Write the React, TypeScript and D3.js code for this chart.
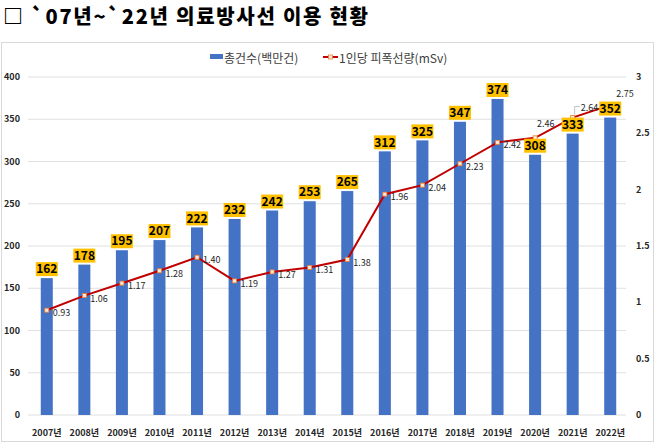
import React from "react";
import * as d3 from "d3";

const years = ["2007년","2008년","2009년","2010년","2011년","2012년","2013년","2014년","2015년","2016년","2017년","2018년","2019년","2020년","2021년","2022년"];
const totalCount = [162,178,195,207,222,232,242,253,265,312,325,347,374,308,333,352];
const perCapitaDose = [0.93,1.06,1.17,1.28,1.40,1.19,1.27,1.31,1.38,1.96,2.04,2.23,2.42,2.46,2.64,2.75];
const leftTicks = [0,50,100,150,200,250,300,350,400];
const rightTicks = [0,0.5,1,1.5,2,2.5,3];
const titleText = "□ `07년~`22년 의료방사선 이용 현황";
const legendBar = "총건수(백만건)";
const legendLine = "1인당 피폭선량(mSv)";

const W = 658, H = 446;
const FONT = "'Noto Sans CJK KR', 'Noto Sans', sans-serif";

// label offsets for line values (style)
const lineLabelOffset = (i: number): [number, number] => {
  if (i === 13) return [2, -11];
  if (i === 14) return [8, -7];
  if (i === 15) return [6, -8];
  return [6, 6];
};

export default function App() {
  const x = d3.scaleBand<string>().domain(years).range([28, 629]).paddingInner(0.68).paddingOuter(0.34);
  const yL = d3.scaleLinear().domain([0, 400]).range([415, 77]);
  const yR = d3.scaleLinear().domain([0, 3]).range([415, 77]);
  const cx = (i: number) => (x(years[i]) as number) + x.bandwidth() / 2;
  const line = d3.line<number>().x((_, i) => cx(i)).y(d => yR(d));
  const fmtR = (v: number) => (v === 0 ? "0" : d3.format("")(v));

  return (
    <svg width={W} height={H} style={{ position: "absolute", left: 0, top: 0, background: "#fff" }} fontFamily={FONT}>
      <rect x={0} y={0} width={W} height={H} fill="#fff" />
      <text x={3} y={24} fontSize={20} fontWeight={900} fill="#000" textLength={365} lengthAdjust="spacing">{titleText}</text>
      <rect x={1.5} y={42.5} width={652} height={399} fill="none" stroke="#d9d9d9" />

      {/* legend */}
      <rect x={210} y={54} width={13} height={5} fill="#4472C4" />
      <text x={224} y={63} fontSize={12} fill="#404040">{legendBar}</text>
      <line x1={323} x2={338} y1={57} y2={57} stroke="#C00000" strokeWidth={2} />
      <rect x={328.5} y={55} width={4} height={4} fill="#fde9d9" stroke="#ed7d31" strokeWidth={0.8} />
      <text x={339} y={63} fontSize={12} fill="#404040">{legendLine}</text>

      {/* gridlines */}
      {leftTicks.map(t => (
        <line key={"g" + t} x1={28} x2={626} y1={yL(t)} y2={yL(t)} stroke="#e0e0e0" strokeWidth={1} />
      ))}
      {leftTicks.map(t => (
        <text key={"l" + t} x={20} y={yL(t)} dy="0.35em" textAnchor="end" fontSize={9} fontWeight={700} fill="#262626">{t}</text>
      ))}
      {rightTicks.map(t => (
        <text key={"r" + t} x={636} y={yR(t)} dy="0.35em" textAnchor="start" fontSize={9} fontWeight={700} fill="#262626">{fmtR(t)}</text>
      ))}

      {/* bars */}
      {totalCount.map((v, i) => (
        <rect key={"b" + i} x={x(years[i])} y={yL(v)} width={x.bandwidth()} height={yL(0) - yL(v)} fill="#4472C4" />
      ))}

      {/* x labels */}
      {years.map((yr, i) => (
        <text key={"x" + i} x={cx(i)} y={436} textAnchor="middle" fontSize={9} fontWeight={700} fill="#262626">{yr}</text>
      ))}

      {/* line */}
      <path d={line(perCapitaDose) || ""} fill="none" stroke="#C00000" strokeWidth={2} />
      {perCapitaDose.map((v, i) => (
        <rect key={"m" + i} x={cx(i) - 2} y={yR(v) - 2} width={4} height={4} fill="#fde9d9" stroke="#ed7d31" strokeWidth={0.8} />
      ))}
      {perCapitaDose.map((v, i) => {
        const [dx, dy] = lineLabelOffset(i);
        return (
          <text key={"lv" + i} x={cx(i) + dx} y={yR(v) + dy} fontSize={9} fill="#262626">{v.toFixed(2)}</text>
        );
      })}
      <polyline points={`${cx(14) + 2},${yR(perCapitaDose[14]) - 3} ${cx(14) + 2},${yR(perCapitaDose[14]) - 11} ${cx(14) + 7},${yR(perCapitaDose[14]) - 11}`} fill="none" stroke="#bfbfbf" strokeWidth={1} />

      {/* bar value labels */}
      {totalCount.map((v, i) => (
        <g key={"bl" + i}>
          <rect x={cx(i) - 11} y={yL(v) - 16} width={22} height={14} fill="#FFC000" />
          <text x={cx(i)} y={yL(v) - 9} dy="0.35em" textAnchor="middle" fontSize={12} fontWeight={700} fill="#000">{v}</text>
        </g>
      ))}
    </svg>
  );
}
